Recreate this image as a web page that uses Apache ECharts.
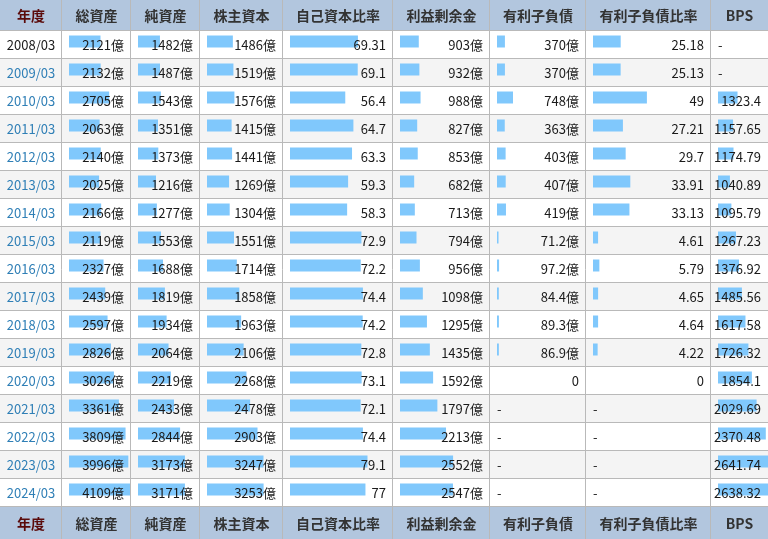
<!DOCTYPE html>
<html>
<head>
<meta charset="utf-8">
<script src="https://cdn.jsdelivr.net/npm/echarts@6/dist/echarts.min.js"></script>
<style>
html, body { margin: 0; padding: 0; background: #fff; }
#Table1 { width: 768px; height: 539px; }
</style>
</head>
<body>
<div id="Table1"></div>
<script>
// data
var years = ['2008/03', '2009/03', '2010/03', '2011/03', '2012/03', '2013/03', '2014/03', '2015/03', '2016/03',
  '2017/03', '2018/03', '2019/03', '2020/03', '2021/03', '2022/03', '2023/03', '2024/03'];
var totalAssets = [2121, 2132, 2705, 2063, 2140, 2025, 2166, 2119, 2327, 2439, 2597, 2826, 3026, 3361, 3809, 3996, 4109];
var netAssets = [1482, 1487, 1543, 1351, 1373, 1216, 1277, 1553, 1688, 1819, 1934, 2064, 2219, 2433, 2844, 3173, 3171];
var equity = [1486, 1519, 1576, 1415, 1441, 1269, 1304, 1551, 1714, 1858, 1963, 2106, 2268, 2478, 2903, 3247, 3253];
var equityRatio = [69.31, 69.1, 56.4, 64.7, 63.3, 59.3, 58.3, 72.9, 72.2, 74.4, 74.2, 72.8, 73.1, 72.1, 74.4, 79.1, 77];
var retained = [903, 932, 988, 827, 853, 682, 713, 794, 956, 1098, 1295, 1435, 1592, 1797, 2213, 2552, 2547];
var debt = [370, 370, 748, 363, 403, 407, 419, 71.2, 97.2, 84.4, 89.3, 86.9, 0, null, null, null, null];
var debtRatio = [25.18, 25.13, 49, 27.21, 29.7, 33.91, 33.13, 4.61, 5.79, 4.65, 4.64, 4.22, 0, null, null, null, null];
var bps = [null, null, 1323.4, 1157.65, 1174.79, 1040.89, 1095.79, 1267.23, 1376.92, 1485.56, 1617.58, 1726.32,
  1854.1, 2029.69, 2370.48, 2641.74, 2638.32];

// layout
var FONT = '"Noto Sans CJK JP", sans-serif';
var edges = [0, 62, 131, 200, 283, 393, 490, 586, 711, 768];
var headTop = 31, rowH = 28;
var bodyH = rowH * years.length;
var footTop = headTop + bodyH;
var barColor = '#80c8fc';
var lineColor = '#b9b9b9';
var textColor = '#1a1a1a';

// one entry per value column (scale = pixels per unit)
var columns = [
  { name: '総資産', data: totalAssets, unit: '億', min: 0, scale: 0.01485 },
  { name: '純資産', data: netAssets, unit: '億', min: 0, scale: 0.0148 },
  { name: '株主資本', data: equity, unit: '億', min: 0, scale: 0.0174 },
  { name: '自己資本比率', data: equityRatio, unit: '', min: 0, scale: 0.98 },
  { name: '利益剰余金', data: retained, unit: '億', min: 0, scale: 0.0208 },
  { name: '有利子負債', data: debt, unit: '億', min: 0, scale: 0.0214 },
  { name: '有利子負債比率', data: debtRatio, unit: '', min: 0, scale: 1.1 },
  { name: 'BPS', data: bps, unit: '', min: 600, scale: 0.027 }
];

function cellText(col, v) {
  if (v === null) return '';
  if (v === 0) return '0';
  return v + col.unit;
}

var myChart = echarts.init(document.querySelector('#Table1'));

var grids = [], xAxes = [], yAxes = [], series = [], graphics = [];

// year column
grids.push({ left: 0, top: headTop, width: edges[1], height: bodyH });
xAxes.push({ type: 'value', gridIndex: 0, min: 0, max: 1, show: false });
yAxes.push({
  type: 'category', gridIndex: 0, data: years, inverse: true, z: 10,
  axisLine: { show: false }, axisTick: { show: false }, splitLine: { show: false },
  axisLabel: {
    margin: -edges[1] / 2, align: 'center', fontFamily: FONT, fontSize: 13,
    formatter: function (v, i) { return i === 0 ? '{a|' + v + '}' : '{b|' + v + '}'; },
    rich: {
      a: { color: textColor, fontFamily: FONT, fontSize: 13 },
      b: { color: '#2f7fb6', fontFamily: FONT, fontSize: 13 }
    }
  }
});

columns.forEach(function (col, c) {
  var x0 = edges[c + 1], x1 = edges[c + 2];
  // bars sit a little above the row centre
  var barGrid = grids.length;
  var barLeft = x0 + 7, barW = x1 - barLeft;
  grids.push({ left: barLeft, top: headTop - 3.5, width: barW, height: bodyH });
  var xi = xAxes.length, yi = yAxes.length;
  xAxes.push({ type: 'value', gridIndex: barGrid, min: col.min, max: col.min + barW / col.scale, show: false });
  yAxes.push({ type: 'category', gridIndex: barGrid, data: years, inverse: true, show: false });
  series.push({
    type: 'bar', xAxisIndex: xi, yAxisIndex: yi, data: col.data,
    barWidth: 12, clip: true, silent: true, z: 1,
    itemStyle: { color: barColor }
  });

  // text grid: right axis for values, left axis for the "-" marks
  var txtGrid = grids.length;
  grids.push({ left: x0, top: headTop, width: x1 - x0, height: bodyH });
  xAxes.push({ type: 'value', gridIndex: txtGrid, min: 0, max: 1, show: false });
  yAxes.push({
    type: 'category', gridIndex: txtGrid, data: years, inverse: true, position: 'right', z: 10,
    axisLine: { show: false }, axisTick: { show: false }, splitLine: { show: false },
    axisLabel: {
      inside: true, margin: 7, color: textColor, fontFamily: FONT, fontSize: 13,
      formatter: function (v, i) { return cellText(col, col.data[i]); }
    }
  });
  yAxes.push({
    type: 'category', gridIndex: txtGrid, data: years, inverse: true, position: 'left', z: 10,
    axisLine: { show: false }, axisTick: { show: false }, splitLine: { show: false },
    axisLabel: {
      inside: true, margin: 7, color: textColor, fontFamily: FONT, fontSize: 13,
      formatter: function (v, i) { return col.data[i] === null ? '-' : ''; }
    }
  });
});

// table background, header and footer
years.forEach(function (y, i) {
  graphics.push({
    type: 'rect', z: -10, silent: true,
    shape: { x: 0, y: headTop + i * rowH, width: 768, height: rowH },
    style: { fill: i % 2 ? '#f4f4f4' : '#ffffff' }
  });
});
[0, footTop].forEach(function (top, k) {
  var h = k === 0 ? headTop : 539 - footTop;
  graphics.push({ type: 'rect', z: -10, silent: true, shape: { x: 0, y: top, width: 768, height: h }, style: { fill: '#b2c6de' } });
  var names = ['年度'].concat(columns.map(function (c) { return c.name; }));
  names.forEach(function (n, j) {
    graphics.push({
      type: 'text', z: 20, silent: true,
      style: {
        x: (edges[j] + edges[j + 1]) / 2, y: top + h / 2 + 0.5, text: n,
        align: 'center', verticalAlign: 'middle',
        font: 'bold 14px ' + FONT, fill: j === 0 ? '#5a0a0a' : '#333333'
      }
    });
  });
});
// grid lines
for (var r = 0; r <= years.length; r++) {
  var yy = headTop + r * rowH - 0.5;
  graphics.push({ type: 'line', z: 10, silent: true, shape: { x1: 0, y1: yy, x2: 768, y2: yy }, style: { stroke: lineColor, lineWidth: 1 } });
}
edges.slice(1, -1).forEach(function (ex) {
  graphics.push({ type: 'line', z: 10, silent: true, shape: { x1: ex - 0.5, y1: 0, x2: ex - 0.5, y2: 539 }, style: { stroke: lineColor, lineWidth: 1 } });
});

var option = {
  animation: false,
  grid: grids,
  xAxis: xAxes,
  yAxis: yAxes,
  series: series,
  graphic: { elements: graphics }
};

myChart.setOption(option);
</script>
</body>
</html>
